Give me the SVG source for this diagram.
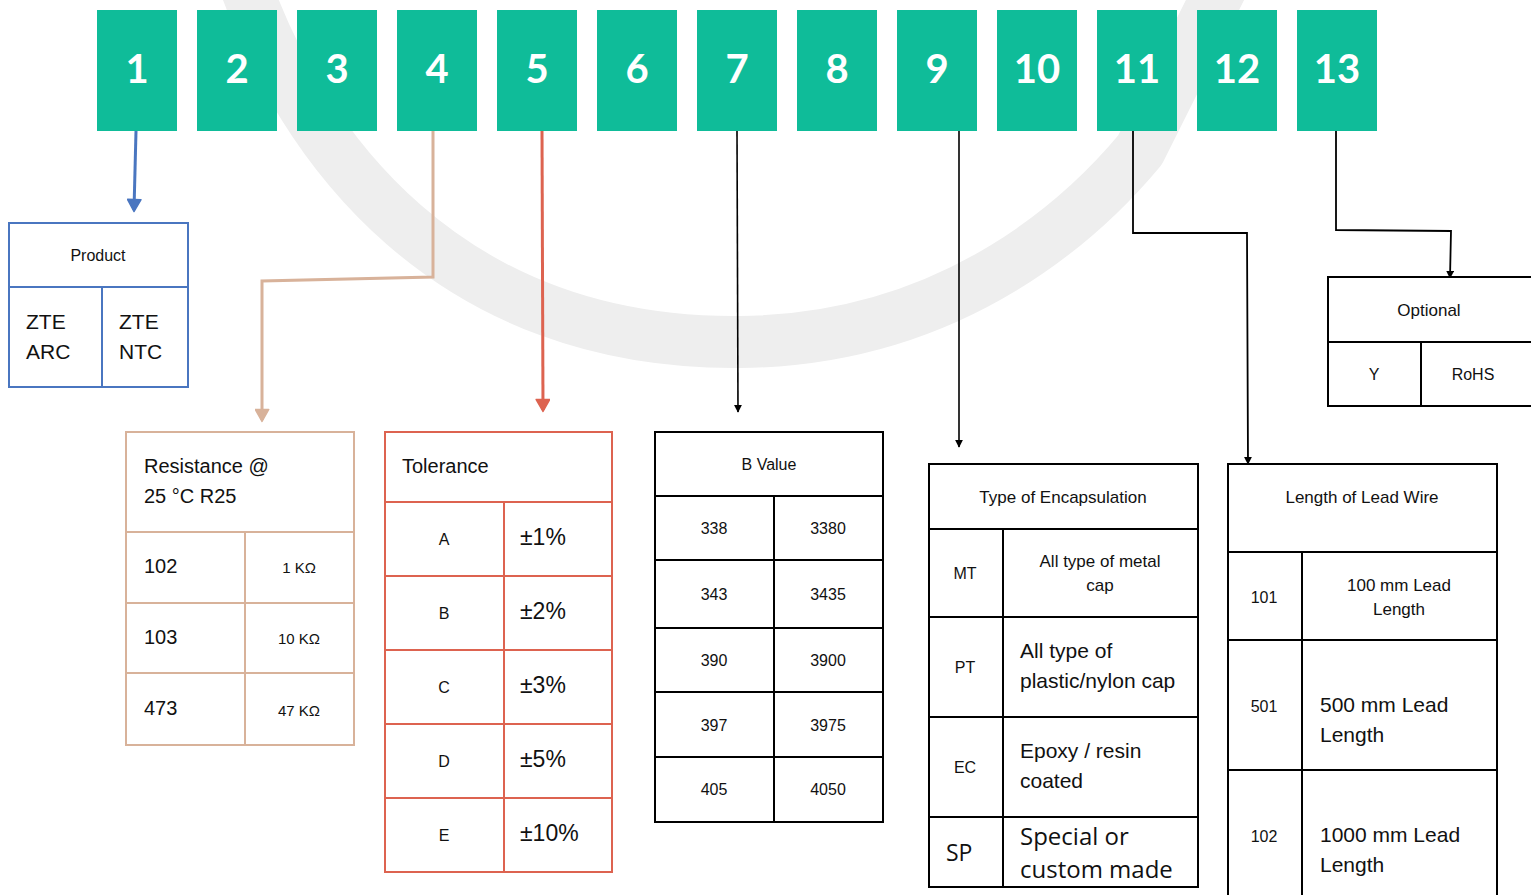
<svg xmlns="http://www.w3.org/2000/svg" width="1531" height="895" viewBox="0 0 1531 895">
<style>
.bx{fill:#0fbc99}
.num{font-family:Lato,"Liberation Sans",sans-serif;font-weight:700;font-size:40px;fill:#fff;text-anchor:middle}
.t{font-family:"Liberation Sans",Arial,sans-serif;fill:#111}
.c{text-anchor:middle}
.s16{font-size:16px}.s17{font-size:17px}.s20{font-size:20px}.s21{font-size:21px}.s23{font-size:23px}
.os{font-family:"Open Sans","Noto Sans",sans-serif;fill:#111}
.tb{fill:#fff;stroke-width:2}
.k{stroke:#000}.bl{stroke:#4a76c0}.tn{stroke:#d8b29a}.rd{stroke:#dd6350}
.ln{fill:none}
</style>
<defs>
<marker id="aB" viewBox="0 0 10 10" refX="8" refY="5" markerWidth="5" markerHeight="5" markerUnits="strokeWidth" orient="auto"><path d="M1,0.5 L9,5 L1,9.5 Z" fill="#4a76c0" stroke="#4a76c0" stroke-linejoin="round"/></marker>
<marker id="aT" viewBox="0 0 10 10" refX="8" refY="5" markerWidth="5" markerHeight="5" markerUnits="strokeWidth" orient="auto"><path d="M1,0.5 L9,5 L1,9.5 Z" fill="#d8b29a" stroke="#d8b29a" stroke-linejoin="round"/></marker>
<marker id="aR" viewBox="0 0 10 10" refX="8" refY="5" markerWidth="5" markerHeight="5" markerUnits="strokeWidth" orient="auto"><path d="M1,0.5 L9,5 L1,9.5 Z" fill="#dd6350" stroke="#dd6350" stroke-linejoin="round"/></marker>
<marker id="aK" viewBox="0 0 10 10" refX="9" refY="5" markerWidth="8" markerHeight="8" markerUnits="userSpaceOnUse" orient="auto"><path d="M0,0 L10,5 L0,10 Z" fill="#000"/></marker>
</defs>
<rect width="1531" height="895" fill="#fff"/>
<path d="M240,-30 C300,150 450,345 740,342 C960,340 1090,210 1140,150 L1230,-30" fill="none" stroke="#eeeeee" stroke-width="52" stroke-linejoin="round" stroke-linecap="round"/>

<g id="boxes">
<g id="b1"><rect class="bx" x="97" y="10" width="80" height="121"/><text class="num" x="137" y="83">1</text></g>
<g id="b2"><rect class="bx" x="197" y="10" width="80" height="121"/><text class="num" x="237" y="83">2</text></g>
<g id="b3"><rect class="bx" x="297" y="10" width="80" height="121"/><text class="num" x="337" y="83">3</text></g>
<g id="b4"><rect class="bx" x="397" y="10" width="80" height="121"/><text class="num" x="437" y="83">4</text></g>
<g id="b5"><rect class="bx" x="497" y="10" width="80" height="121"/><text class="num" x="537" y="83">5</text></g>
<g id="b6"><rect class="bx" x="597" y="10" width="80" height="121"/><text class="num" x="637" y="83">6</text></g>
<g id="b7"><rect class="bx" x="697" y="10" width="80" height="121"/><text class="num" x="737" y="83">7</text></g>
<g id="b8"><rect class="bx" x="797" y="10" width="80" height="121"/><text class="num" x="837" y="83">8</text></g>
<g id="b9"><rect class="bx" x="897" y="10" width="80" height="121"/><text class="num" x="937" y="83">9</text></g>
<g id="b10"><rect class="bx" x="997" y="10" width="80" height="121"/><text class="num" x="1037" y="83">10</text></g>
<g id="b11"><rect class="bx" x="1097" y="10" width="80" height="121"/><text class="num" x="1137" y="83">11</text></g>
<g id="b12"><rect class="bx" x="1197" y="10" width="80" height="121"/><text class="num" x="1237" y="83">12</text></g>
<g id="b13"><rect class="bx" x="1297" y="10" width="80" height="121"/><text class="num" x="1337" y="83">13</text></g>
</g>

<g id="connectors">
<path class="ln bl" stroke-width="3" d="M136,131 L134,210" marker-end="url(#aB)"/>
<path class="ln tn" stroke-width="3" d="M433,131 L433,277 L262,281 L262,420" marker-end="url(#aT)"/>
<path class="ln rd" stroke-width="3" d="M542,131 L543,410" marker-end="url(#aR)"/>
<path class="ln k" stroke-width="1.6" d="M737,131 L738,412" marker-end="url(#aK)"/>
<path class="ln k" stroke-width="1.6" d="M959,131 L959,447" marker-end="url(#aK)"/>
<path class="ln k" stroke-width="1.8" d="M1133,131 L1133,233 L1247,233 L1248,464" marker-end="url(#aK)"/>
<path class="ln k" stroke-width="1.8" d="M1336,131 L1336,230 L1451,231 L1450,278" marker-end="url(#aK)"/>
</g>

<g id="product">
<rect class="tb bl" x="9" y="223" width="179" height="164"/>
<path class="ln bl" stroke-width="2" d="M9,287 H188 M102,287 V387"/>
<text class="t c s16" x="98" y="261">Product</text>
<text class="t s21" x="26" y="329">ZTE</text><text class="t s21" x="26" y="359">ARC</text>
<text class="t s21" x="119" y="329">ZTE</text><text class="t s21" x="119" y="359">NTC</text>
</g>

<g id="resistance">
<rect class="tb tn" x="126" y="432" width="228" height="313"/>
<path class="ln tn" stroke-width="2" d="M126,532 H354 M126,603 H354 M126,673 H354 M245,532 V745"/>
<text class="t s20" x="144" y="473">Resistance @</text>
<text class="t s20" x="144" y="503">25 °C R25</text>
<text class="t s20" x="144" y="573">102</text><text class="t c" font-size="15" x="299" y="573">1 KΩ</text>
<text class="t s20" x="144" y="644">103</text><text class="t c" font-size="15" x="299" y="644">10 KΩ</text>
<text class="t s20" x="144" y="715">473</text><text class="t c" font-size="15" x="299" y="716">47 KΩ</text>
</g>

<g id="tolerance">
<rect class="tb rd" x="385" y="432" width="227" height="440"/>
<path class="ln rd" stroke-width="2" d="M385,502 H612 M385,576 H612 M385,650 H612 M385,724 H612 M385,798 H612 M504,502 V872"/>
<text class="t s20" x="402" y="473">Tolerance</text>
<text class="t c s16" x="444" y="545">A</text><text class="t s23" x="520" y="545">±1%</text>
<text class="t c s16" x="444" y="619">B</text><text class="t s23" x="520" y="619">±2%</text>
<text class="t c s16" x="444" y="693">C</text><text class="t s23" x="520" y="693">±3%</text>
<text class="t c s16" x="444" y="767">D</text><text class="t s23" x="520" y="767">±5%</text>
<text class="t c s16" x="444" y="841">E</text><text class="t s23" x="520" y="841">±10%</text>
</g>

<g id="bvalue">
<rect class="tb k" x="655" y="432" width="228" height="390"/>
<path class="ln k" stroke-width="2" d="M655,496 H883 M655,560 H883 M655,628 H883 M655,692 H883 M655,757 H883 M774,496 V822"/>
<text class="t c s16" x="769" y="470">B Value</text>
<text class="t c s16" x="714" y="534">338</text><text class="t c s16" x="828" y="534">3380</text>
<text class="t c s16" x="714" y="600">343</text><text class="t c s16" x="828" y="600">3435</text>
<text class="t c s16" x="714" y="666">390</text><text class="t c s16" x="828" y="666">3900</text>
<text class="t c s16" x="714" y="731">397</text><text class="t c s16" x="828" y="731">3975</text>
<text class="t c s16" x="714" y="795">405</text><text class="t c s16" x="828" y="795">4050</text>
</g>

<g id="encapsulation">
<rect class="tb k" x="929" y="464" width="269" height="423"/>
<path class="ln k" stroke-width="2" d="M929,529 H1198 M929,617 H1198 M929,717 H1198 M929,817 H1198 M1003,529 V887"/>
<text class="t c s17" x="1063" y="503">Type of Encapsulation</text>
<text class="t c s16" x="965" y="579">MT</text>
<text class="t c s17" x="1100" y="567">All type of metal</text><text class="t c s17" x="1100" y="591">cap</text>
<text class="t c s16" x="965" y="673">PT</text>
<text class="t s21" x="1020" y="658">All type of</text><text class="t s21" x="1020" y="688">plastic/nylon cap</text>
<text class="t c s16" x="965" y="773">EC</text>
<text class="t s21" x="1020" y="758">Epoxy / resin</text><text class="t s21" x="1020" y="788">coated</text>
<text class="os" font-size="23" x="946" y="861">SP</text>
<text class="os" font-size="24" x="1020" y="845">Special or</text><text class="os" font-size="24" x="1020" y="878">custom made</text>
</g>

<g id="leadwire">
<rect class="tb k" x="1228" y="464" width="269" height="440"/>
<path class="ln k" stroke-width="2" d="M1228,552 H1497 M1228,640 H1497 M1228,770 H1497 M1302,552 V904"/>
<text class="t c s17" x="1362" y="503">Length of Lead Wire</text>
<text class="t c s16" x="1264" y="603">101</text>
<text class="t c s17" x="1399" y="591">100 mm Lead</text><text class="t c s17" x="1399" y="615">Length</text>
<text class="t c s16" x="1264" y="712">501</text>
<text class="t s21" x="1320" y="712">500 mm Lead</text><text class="t s21" x="1320" y="742">Length</text>
<text class="t c s16" x="1264" y="842">102</text>
<text class="t s21" x="1320" y="842">1000 mm Lead</text><text class="t s21" x="1320" y="872">Length</text>
</g>

<g id="optional">
<rect class="tb k" x="1328" y="277" width="210" height="129"/>
<path class="ln k" stroke-width="2" d="M1328,342 H1538 M1421,342 V406"/>
<text class="t c s17" x="1429" y="316">Optional</text>
<text class="t c s16" x="1374" y="380">Y</text>
<text class="t c s16" x="1473" y="380">RoHS</text>
</g>
</svg>
